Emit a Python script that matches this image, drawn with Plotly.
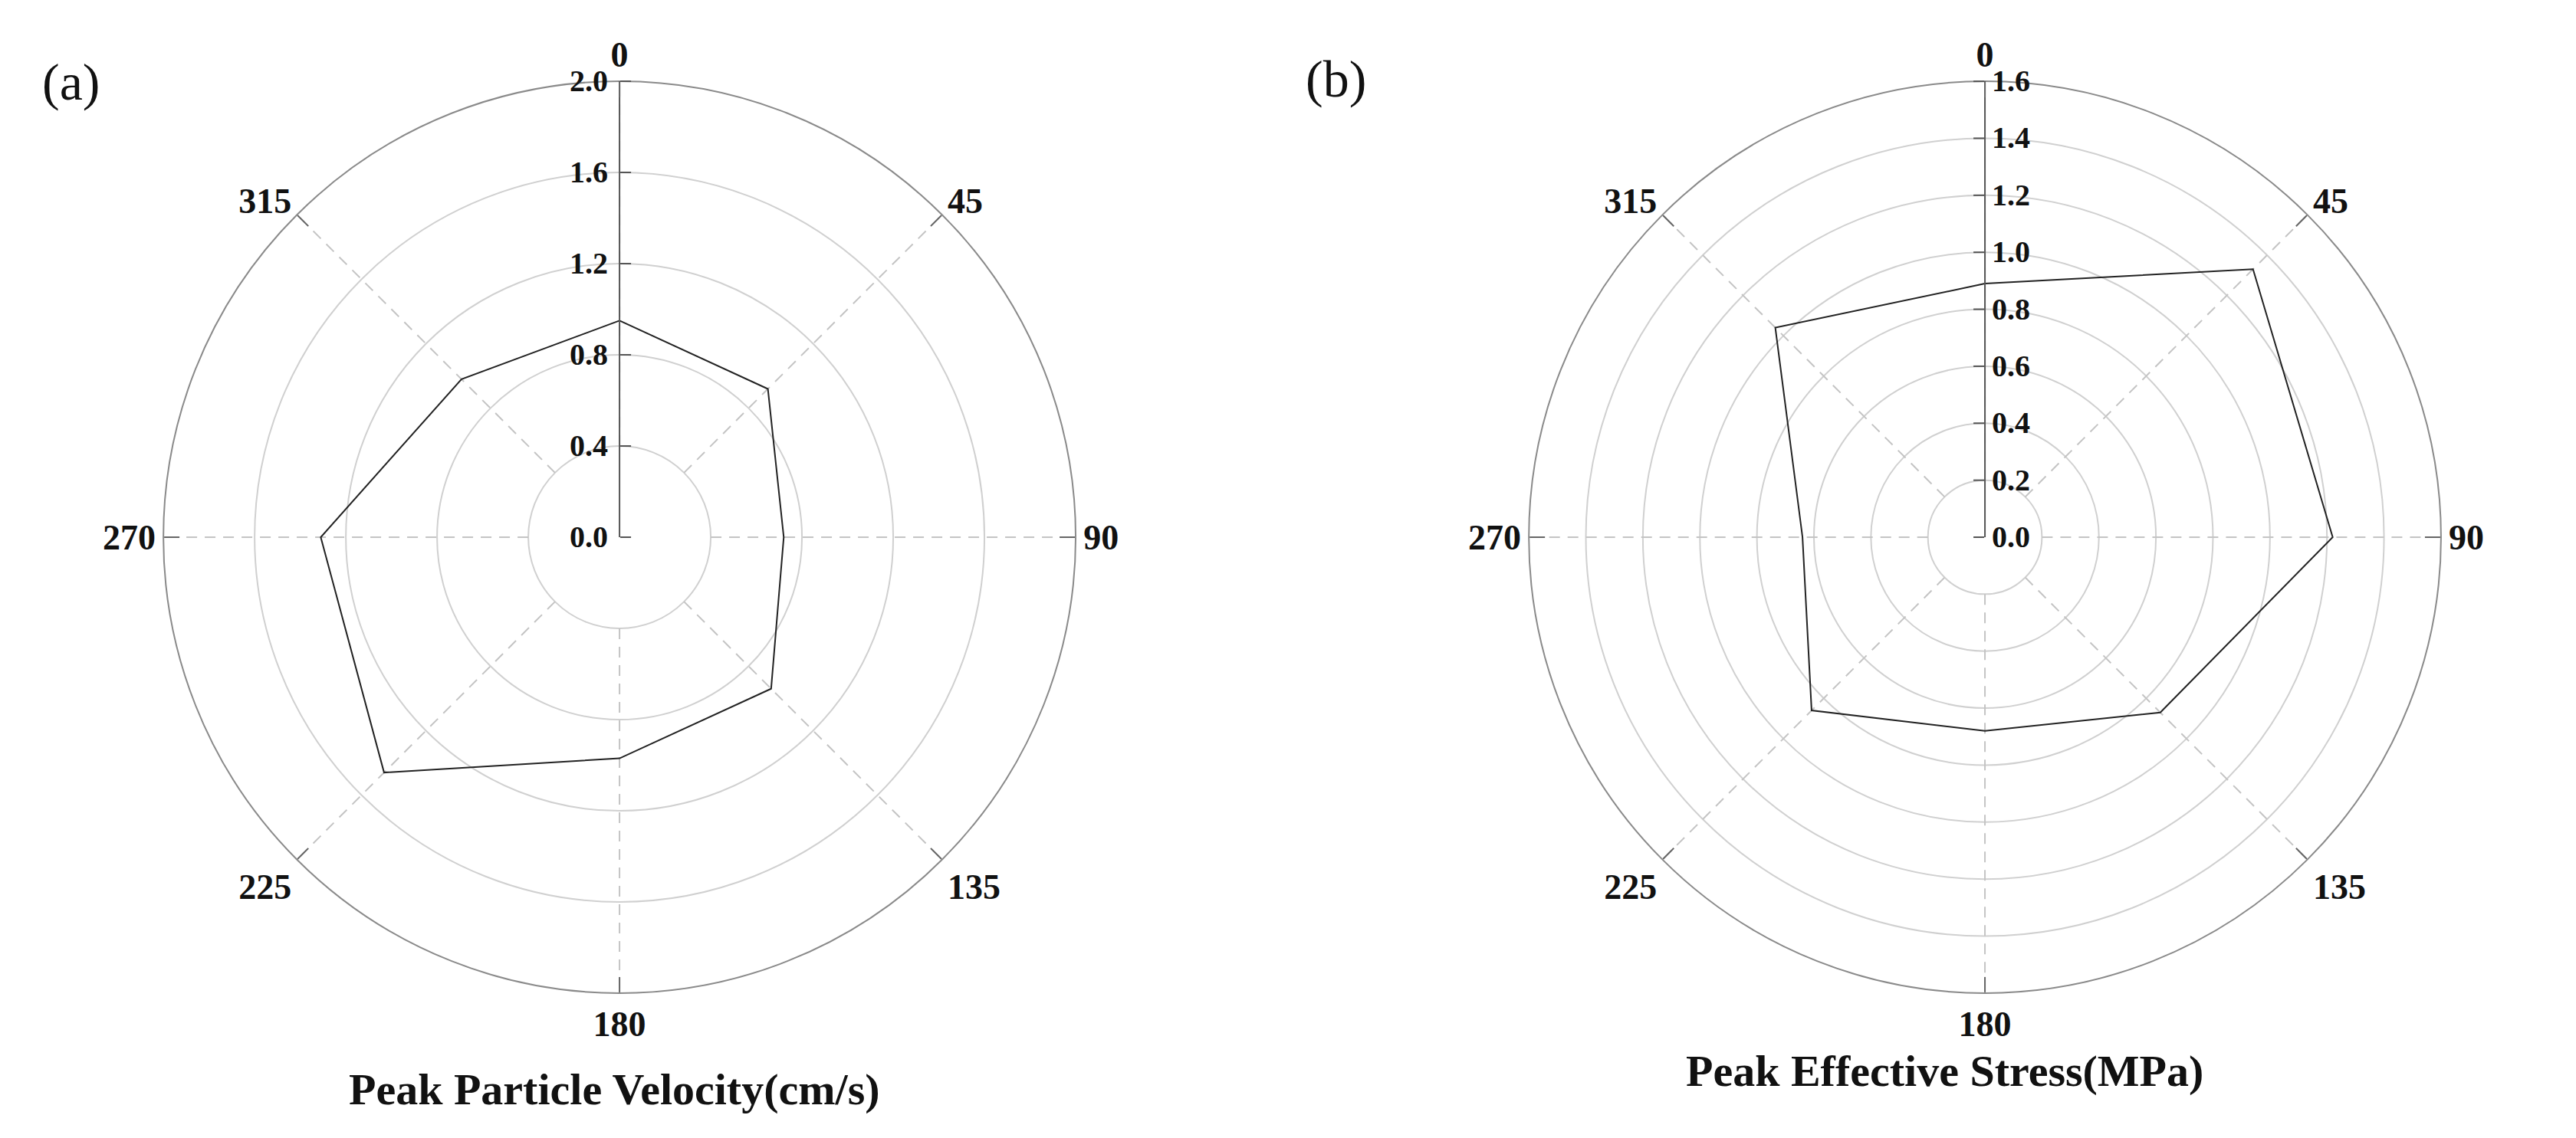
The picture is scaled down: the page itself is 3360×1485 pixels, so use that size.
import plotly.graph_objects as go

# directions (degrees, clockwise from north)
directions = [0, 45, 90, 135, 180, 225, 270, 315]

# (a) peak particle velocity, cm/s
ppv = [0.95, 0.92, 0.72, 0.94, 0.97, 1.46, 1.31, 0.98]
ppv_ticks = [0.0, 0.4, 0.8, 1.2, 1.6, 2.0]

# (b) peak effective stress, MPa
pes = [0.89, 1.33, 1.22, 0.87, 0.68, 0.86, 0.64, 1.04]
pes_ticks = [0.0, 0.2, 0.4, 0.6, 0.8, 1.0, 1.2, 1.4, 1.6]

FONT = "Liberation Serif"
GRID = "#d0d0d0"
SPOKE = "#c4c4c4"

fig = go.Figure()


def add_panel(name, values, ticks):
    # dashed spokes from first ring out to the rim
    for d in directions:
        fig.add_trace(go.Scatterpolar(
            r=[ticks[1], ticks[-1]], theta=[d, d], mode="lines",
            line=dict(color=SPOKE, width=2, dash="14px,10px"),
            hoverinfo="skip", showlegend=False, subplot=name,
        ))
    fig.add_trace(go.Scatterpolar(
        r=values + values[:1], theta=directions + directions[:1],
        mode="lines", line=dict(color="#222222", width=2),
        showlegend=False, subplot=name,
    ))


add_panel("polar", ppv, ppv_ticks)
add_panel("polar2", pes, pes_ticks)


def polar_layout(xdom, ticks, side):
    return dict(
        domain=dict(x=xdom, y=[0.1273, 0.9286]),
        bgcolor="white",
        radialaxis=dict(
            range=[ticks[0], ticks[-1]], tickvals=ticks,
            ticktext=[f"{t:.1f}" for t in ticks],
            angle=90, tickangle=90, side=side, ticks="inside", ticklen=14,
            tickcolor="#555555", tickwidth=2,
            showline=True, linecolor="#555555", linewidth=2,
            gridcolor=GRID, gridwidth=2,
            tickfont=dict(family=FONT, size=40, weight="bold", color="#111111"),
        ),
        angularaxis=dict(
            rotation=90, direction="clockwise",
            tickvals=directions, ticktext=[str(d) for d in directions],
            ticks="inside", ticklen=20, tickcolor="#666666", tickwidth=2,
            showgrid=False, showline=True, linecolor="#8a8a8a", linewidth=2,
            tickfont=dict(family=FONT, size=46, weight="bold", color="#111111"),
        ),
    )


def note(text, x, y, size, bold=False):
    return dict(text=text, x=x / 3360, y=1 - y / 1485, xref="paper", yref="paper",
                xanchor="center", yanchor="middle", showarrow=False,
                font=dict(family=FONT, size=size, color="#111111",
                          weight="bold" if bold else "normal"))


fig.update_layout(
    width=3360, height=1485,
    margin=dict(l=0, r=0, t=0, b=0),
    paper_bgcolor="white",
    polar=polar_layout([0.0634, 0.4176], ppv_ticks, "counterclockwise"),
    polar2=polar_layout([0.5935, 0.9476], pes_ticks, "clockwise"),
    annotations=[
        note("(a)", 92, 107, 68),
        note("(b)", 1742, 103, 68),
        note("Peak Particle Velocity(cm/s)", 801, 1421, 58, bold=True),
        note("Peak Effective Stress(MPa)", 2536, 1397, 58, bold=True),
    ],
)

fig.write_html("out.html", config={"displayModeBar": False},
               post_script="document.body.style.margin='0';document.body.style.overflow='hidden';")
